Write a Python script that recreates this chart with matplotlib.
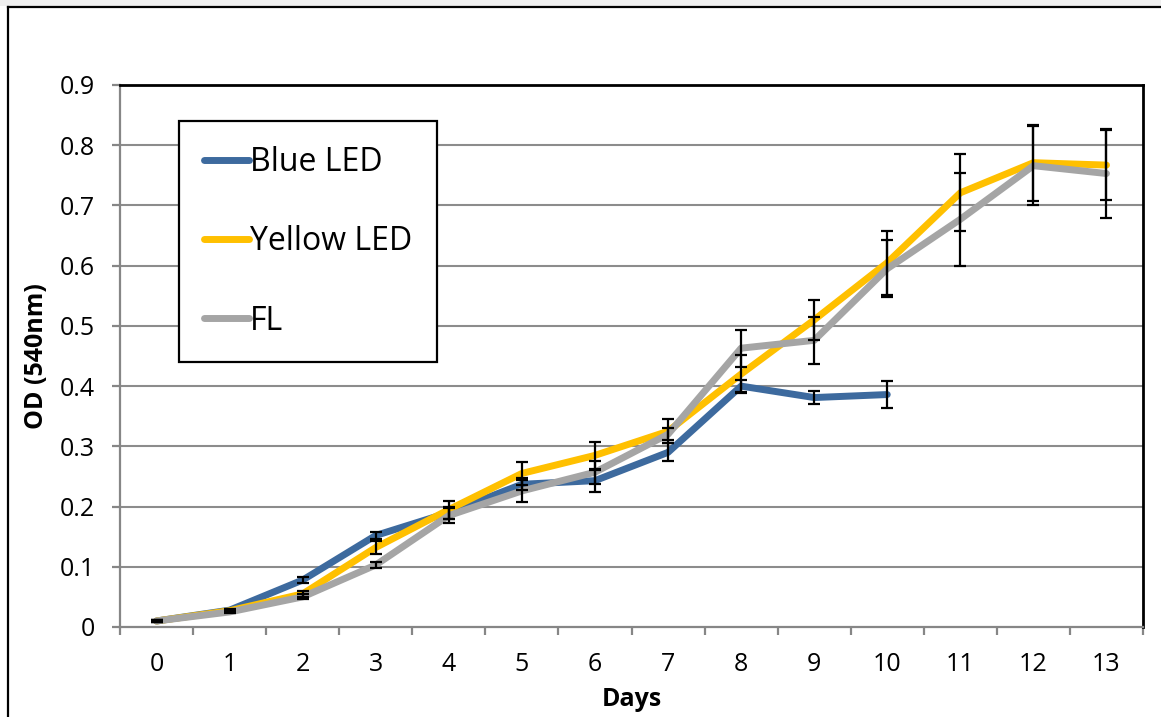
import matplotlib
matplotlib.use("Agg")
import matplotlib.pyplot as plt
from matplotlib.lines import Line2D
from matplotlib.patches import Rectangle
import numpy as np

plt.rcParams['font.family'] = ['Open Sans', 'DejaVu Sans']

days = list(range(14))
day_labels = [str(d) for d in days]

blue_led = [0.010, 0.028, 0.078, 0.152, 0.190, 0.237, 0.243, 0.290, 0.400, 0.381, 0.386]
blue_err = [0.002, 0.002, 0.005, 0.006, 0.010, 0.010, 0.018, 0.015, 0.010, 0.011, 0.023]

yellow_led = [0.010, 0.027, 0.055, 0.132, 0.195, 0.255, 0.285, 0.325, 0.420, 0.510,
              0.605, 0.721, 0.771, 0.767]
yellow_err = [0.002, 0.002, 0.005, 0.011, 0.015, 0.019, 0.022, 0.020, 0.031, 0.033,
              0.053, 0.064, 0.063, 0.058]

fl = [0.010, 0.025, 0.050, 0.103, 0.185, 0.226, 0.257, 0.320, 0.463, 0.476,
      0.595, 0.677, 0.766, 0.753]
fl_err = [0.002, 0.002, 0.004, 0.005, 0.012, 0.018, 0.019, 0.010, 0.031, 0.039,
          0.047, 0.077, 0.066, 0.074]

series = [
    ("Blue LED", blue_led, blue_err, "#3D6A9E"),
    ("Yellow LED", yellow_led, yellow_err, "#FFC000"),
    ("FL", fl, fl_err, "#A5A5A5"),
]

W, H = 1161, 717
fig = plt.figure(figsize=(W / 100, H / 100), dpi=100)
fig.patch.set_facecolor("white")

# outer chart frame
fig.add_artist(Rectangle((0, 1 - 6 / H), 1, 6 / H, transform=fig.transFigure,
                         facecolor="#efefef", edgecolor="none", zorder=0))
fig.add_artist(Line2D([8 / W, 8 / W], [0, 1 - 7 / H], transform=fig.transFigure,
                      color="black", lw=1.6))
fig.add_artist(Line2D([8 / W, 1], [1 - 7 / H, 1 - 7 / H], transform=fig.transFigure,
                      color="black", lw=1.6))

ax = fig.add_axes([120 / W, 1 - 627 / H, (1143 - 120) / W, (627 - 85) / H])

ax.set_xlim(-0.5, 13.5)
ax.set_ylim(0, 0.9)

ax.set_yticks(np.arange(0, 0.91, 0.1))
ax.set_yticklabels(["0"] + [f"{v:.1f}" for v in np.arange(0.1, 0.91, 0.1)])
ax.set_xticks(days)
ax.set_xticklabels(day_labels)
ax.set_xticks(np.arange(-0.5, 13.6, 1), minor=True)

ax.tick_params(axis="x", which="major", length=0, pad=18, labelsize=18)
ax.tick_params(axis="x", which="minor", length=6, width=1.6, color="#868686", direction="out")
ax.tick_params(axis="y", which="major", length=6, width=1.6, color="#868686", pad=12,
               labelsize=18)

for y in np.arange(0.1, 0.85, 0.1):
    ax.axhline(y, color="#8C8C8C", lw=1.5, zorder=1)

for side in ("left", "bottom"):
    ax.spines[side].set_color("#868686")
    ax.spines[side].set_linewidth(1.6)
for side in ("top", "right"):
    ax.spines[side].set_color("black")
    ax.spines[side].set_linewidth(2.0)

handles = []
for i, (name, vals, errs, color) in enumerate(series):
    x = days[:len(vals)]
    (ln,) = ax.plot(x, vals, color=color, lw=5, solid_capstyle="round",
                    solid_joinstyle="round", zorder=3 + i, label=name)
    ax.errorbar(x, vals, yerr=errs, fmt="none", ecolor="black", elinewidth=1.6,
                capsize=4.5, capthick=1.6, zorder=7)
    handles.append(ln)

ax.set_xlabel("Days", fontsize=18, fontweight="bold", labelpad=7)
ax.set_ylabel("OD (540nm)", fontsize=18, fontweight="bold", labelpad=8)

leg = ax.legend(handles=handles, loc="upper left",
                bbox_to_anchor=((179 - 120) / 1023, (627 - 121) / 542),
                borderaxespad=0, fontsize=23, handlelength=1.4, handletextpad=0.05,
                borderpad=0.78, labelspacing=1.45, fancybox=False, framealpha=1,
                edgecolor="black")
leg.get_frame().set_linewidth(1.6)
for lh in leg.get_lines():
    lh.set_linewidth(5)
    lh.set_solid_capstyle("round")

fig.savefig("out.png", dpi=100)
